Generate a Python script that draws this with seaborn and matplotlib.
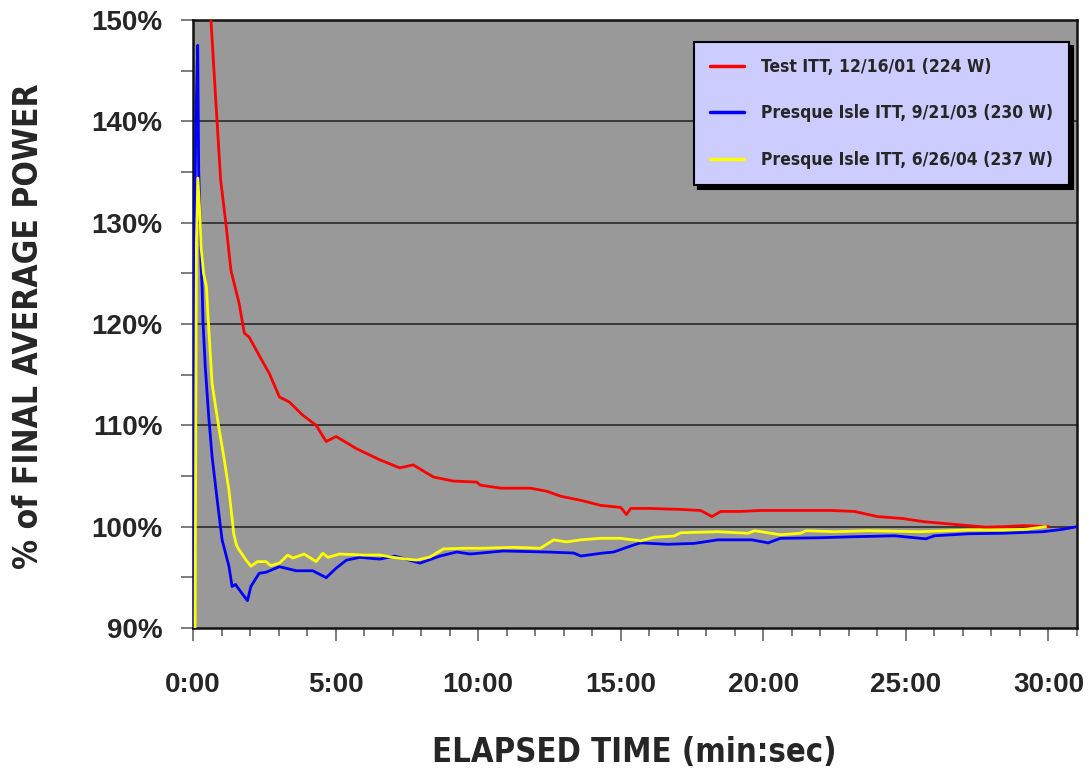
import numpy as np
import pandas as pd
import matplotlib
matplotlib.use("Agg")
import matplotlib.pyplot as plt
import seaborn as sns
from matplotlib.ticker import MultipleLocator, FuncFormatter

# ---- data (time in minutes, % of final average power) ----
red_label = "Test ITT, 12/16/01 (224 W)"
blue_label = "Presque Isle ITT, 9/21/03 (230 W)"
yellow_label = "Presque Isle ITT, 6/26/04 (237 W)"

red_t = [0.5, 0.63, 0.8, 0.97, 1.15, 1.33, 1.62, 1.8, 1.97, 2.32, 2.68, 3.03, 3.38, 3.85,
         4.32, 4.67, 5.02, 5.73, 6.55, 7.25, 7.72, 8.43, 9.13, 9.95, 10.07, 10.8, 11.83,
         12.4, 12.9, 13.6, 14.3, 15.0, 15.2, 15.35, 16.0, 17.1, 17.8, 18.2, 18.5, 19.2,
         19.9, 20.6, 21.3, 22.4, 23.2, 24.0, 24.9, 25.6, 26.4, 27.2, 27.8, 28.4, 29.1, 30.0]
red_y = [154, 150, 142, 134.2, 130, 125.3, 122, 119.1, 118.7, 116.9, 115.1, 112.8, 112.3, 111,
         110, 108.4, 108.9, 107.7, 106.6, 105.8, 106.1, 104.9, 104.5, 104.4, 104.1, 103.8, 103.8,
         103.5, 103.0, 102.6, 102.1, 101.9, 101.2, 101.8, 101.8, 101.7, 101.6, 101.0, 101.5, 101.5,
         101.6, 101.6, 101.6, 101.6, 101.5, 101.0, 100.8, 100.5, 100.3, 100.1, 99.95, 100.0, 100.1, 100.0]

blue_t = [0.0, 0.05, 0.1, 0.165, 0.2, 0.26, 0.28, 0.32, 0.35, 0.43, 0.55, 0.67, 0.85, 1.02,
          1.26, 1.37, 1.49, 1.67, 1.91, 2.03, 2.32, 2.56, 3.03, 3.62, 4.2, 4.67, 5.02, 5.38,
          5.85, 6.55, 7.08, 7.96, 8.66, 9.25, 9.72, 10.88, 12.4, 13.35, 13.6, 14.3, 14.75,
          15.46, 15.7, 16.64, 17.58, 18.4, 19.6, 20.17, 20.6, 21.9, 23.1, 24.6, 25.7, 26.0,
          27.2, 28.4, 29.8, 30.5, 31.0]
blue_y = [88, 128, 140, 147.5, 135.2, 129, 126, 123.6, 120.3, 115.8, 110.9, 106.9, 102.6, 98.7,
          96.1, 94.1, 94.3, 93.6, 92.7, 94.1, 95.4, 95.5, 96.05, 95.65, 95.65, 94.97, 95.9, 96.7,
          96.97, 96.8, 97.1, 96.4, 97.1, 97.5, 97.3, 97.6, 97.5, 97.4, 97.1, 97.37, 97.5,
          98.2, 98.4, 98.26, 98.35, 98.7, 98.7, 98.4, 98.85, 98.9, 99.0, 99.1, 98.8, 99.1,
          99.3, 99.35, 99.5, 99.74, 100.0]

yellow_t = [0.07, 0.12, 0.17, 0.25, 0.28, 0.37, 0.47, 0.52, 0.67, 0.9, 1.08, 1.26, 1.43, 1.52,
            1.62, 1.86, 2.03, 2.26, 2.56, 2.73, 3.03, 3.32, 3.5, 3.9, 4.32, 4.55, 4.73, 5.14,
            5.96, 6.55, 7.02, 7.49, 7.84, 8.3, 8.78, 9.48, 10.07, 11.24, 12.18, 12.65, 13.1,
            13.6, 14.3, 15.0, 15.7, 16.17, 16.88, 17.1, 18.4, 19.46, 19.7, 20.6, 21.3, 21.5,
            22.5, 23.7, 25.45, 27.2, 28.4, 29.2, 29.9]
yellow_y = [88, 128, 134.4, 130.3, 127.7, 125, 123.7, 121.1, 114.1, 109.9, 106.9, 103.6, 99.3, 98.2,
            97.7, 96.7, 96.1, 96.55, 96.55, 96.15, 96.4, 97.2, 96.9, 97.3, 96.55, 97.37, 96.97, 97.3,
            97.2, 97.2, 96.97, 96.8, 96.7, 97.0, 97.8, 97.87, 97.87, 97.96, 97.87, 98.7, 98.5,
            98.7, 98.85, 98.85, 98.6, 98.95, 99.08, 99.4, 99.5, 99.35, 99.6, 99.2, 99.35, 99.6,
            99.5, 99.6, 99.5, 99.67, 99.67, 99.74, 100.0]

x_ticks_major = [0, 5, 10, 15, 20, 25, 30]
y_ticks_major = [90, 100, 110, 120, 130, 140, 150]

# ---- build long table ----
df = pd.concat([
    pd.DataFrame({"t": red_t, "pct": red_y, "series": red_label}),
    pd.DataFrame({"t": blue_t, "pct": blue_y, "series": blue_label}),
    pd.DataFrame({"t": yellow_t, "pct": yellow_y, "series": yellow_label}),
], ignore_index=True)

palette = {red_label: "#FF0000", blue_label: "#0000FF", yellow_label: "#FFFF00"}

sns.set_style("ticks")
plt.rcParams["font.family"] = ["Liberation Sans", "DejaVu Sans"]
narrow_prop = dict(family="DejaVu Sans", stretch="condensed", weight="bold")

fig = plt.figure(figsize=(10.89, 7.74), dpi=100)
ax = fig.add_axes([193 / 1089, 1 - 628 / 774, (1077 - 193) / 1089, (628 - 20) / 774])
ax.set_facecolor("#999999")

sns.lineplot(data=df, x="t", y="pct", hue="series", palette=palette,
             hue_order=[red_label, blue_label, yellow_label],
             estimator=None, sort=False, linewidth=2.0, ax=ax, zorder=3)

ax.set_xlim(0, 31)
ax.set_ylim(90, 150)

for yv in y_ticks_major[1:-1]:
    ax.axhline(yv, color="#2a2a2a", linewidth=1.2, zorder=1)

ax.xaxis.set_major_locator(plt.FixedLocator(x_ticks_major))
ax.xaxis.set_minor_locator(MultipleLocator(1))
ax.yaxis.set_major_locator(plt.FixedLocator(y_ticks_major))
ax.yaxis.set_minor_locator(MultipleLocator(5))
ax.xaxis.set_major_formatter(FuncFormatter(lambda v, p: f"{int(v)}:00"))
ax.yaxis.set_major_formatter(FuncFormatter(lambda v, p: f"{int(v)}%"))

ax.tick_params(axis="x", which="major", length=9, width=1.2, color="#666666",
               pad=23, labelsize=20)
ax.tick_params(axis="x", which="minor", length=6, width=1.2, color="#666666")
ax.tick_params(axis="y", which="major", length=9, width=1.2, color="#666666",
               pad=13, labelsize=20)
ax.tick_params(axis="y", which="minor", length=9, width=1.2, color="#666666")
for lab in ax.get_xticklabels() + ax.get_yticklabels():
    lab.set_fontweight("bold")

for s in ax.spines.values():
    s.set_visible(True)
    s.set_color("#111111")
    s.set_linewidth(1.8)

ax.set_xlabel("ELAPSED TIME (min:sec)", fontsize=23.5, **narrow_prop)
ax.xaxis.set_label_coords(0.499, -0.178)
ax.set_ylabel("% of FINAL AVERAGE POWER", fontsize=24, **narrow_prop)
ax.yaxis.set_label_coords(-0.167, 0.497)

handles, labels = ax.get_legend_handles_labels()
leg = ax.legend(handles, labels, loc="upper left",
                bbox_to_anchor=(694 / 1089, 1 - 42 / 774), bbox_transform=fig.transFigure,
                borderaxespad=0, frameon=True, fancybox=False, framealpha=1,
                facecolor="#CCCCFF", edgecolor="black",
                shadow={"ox": 3, "oy": -3, "facecolor": "black", "edgecolor": "black", "alpha": 1.0},
                handlelength=2.0, handletextpad=0.95, labelspacing=1.65, borderpad=0.9,
                prop=dict(size=12.5, **narrow_prop))
leg.get_frame().set_linewidth(1.5)
for ln in leg.get_lines():
    ln.set_linewidth(2.5)
leg.set_zorder(5)

fig.savefig("out.png", dpi=100)
